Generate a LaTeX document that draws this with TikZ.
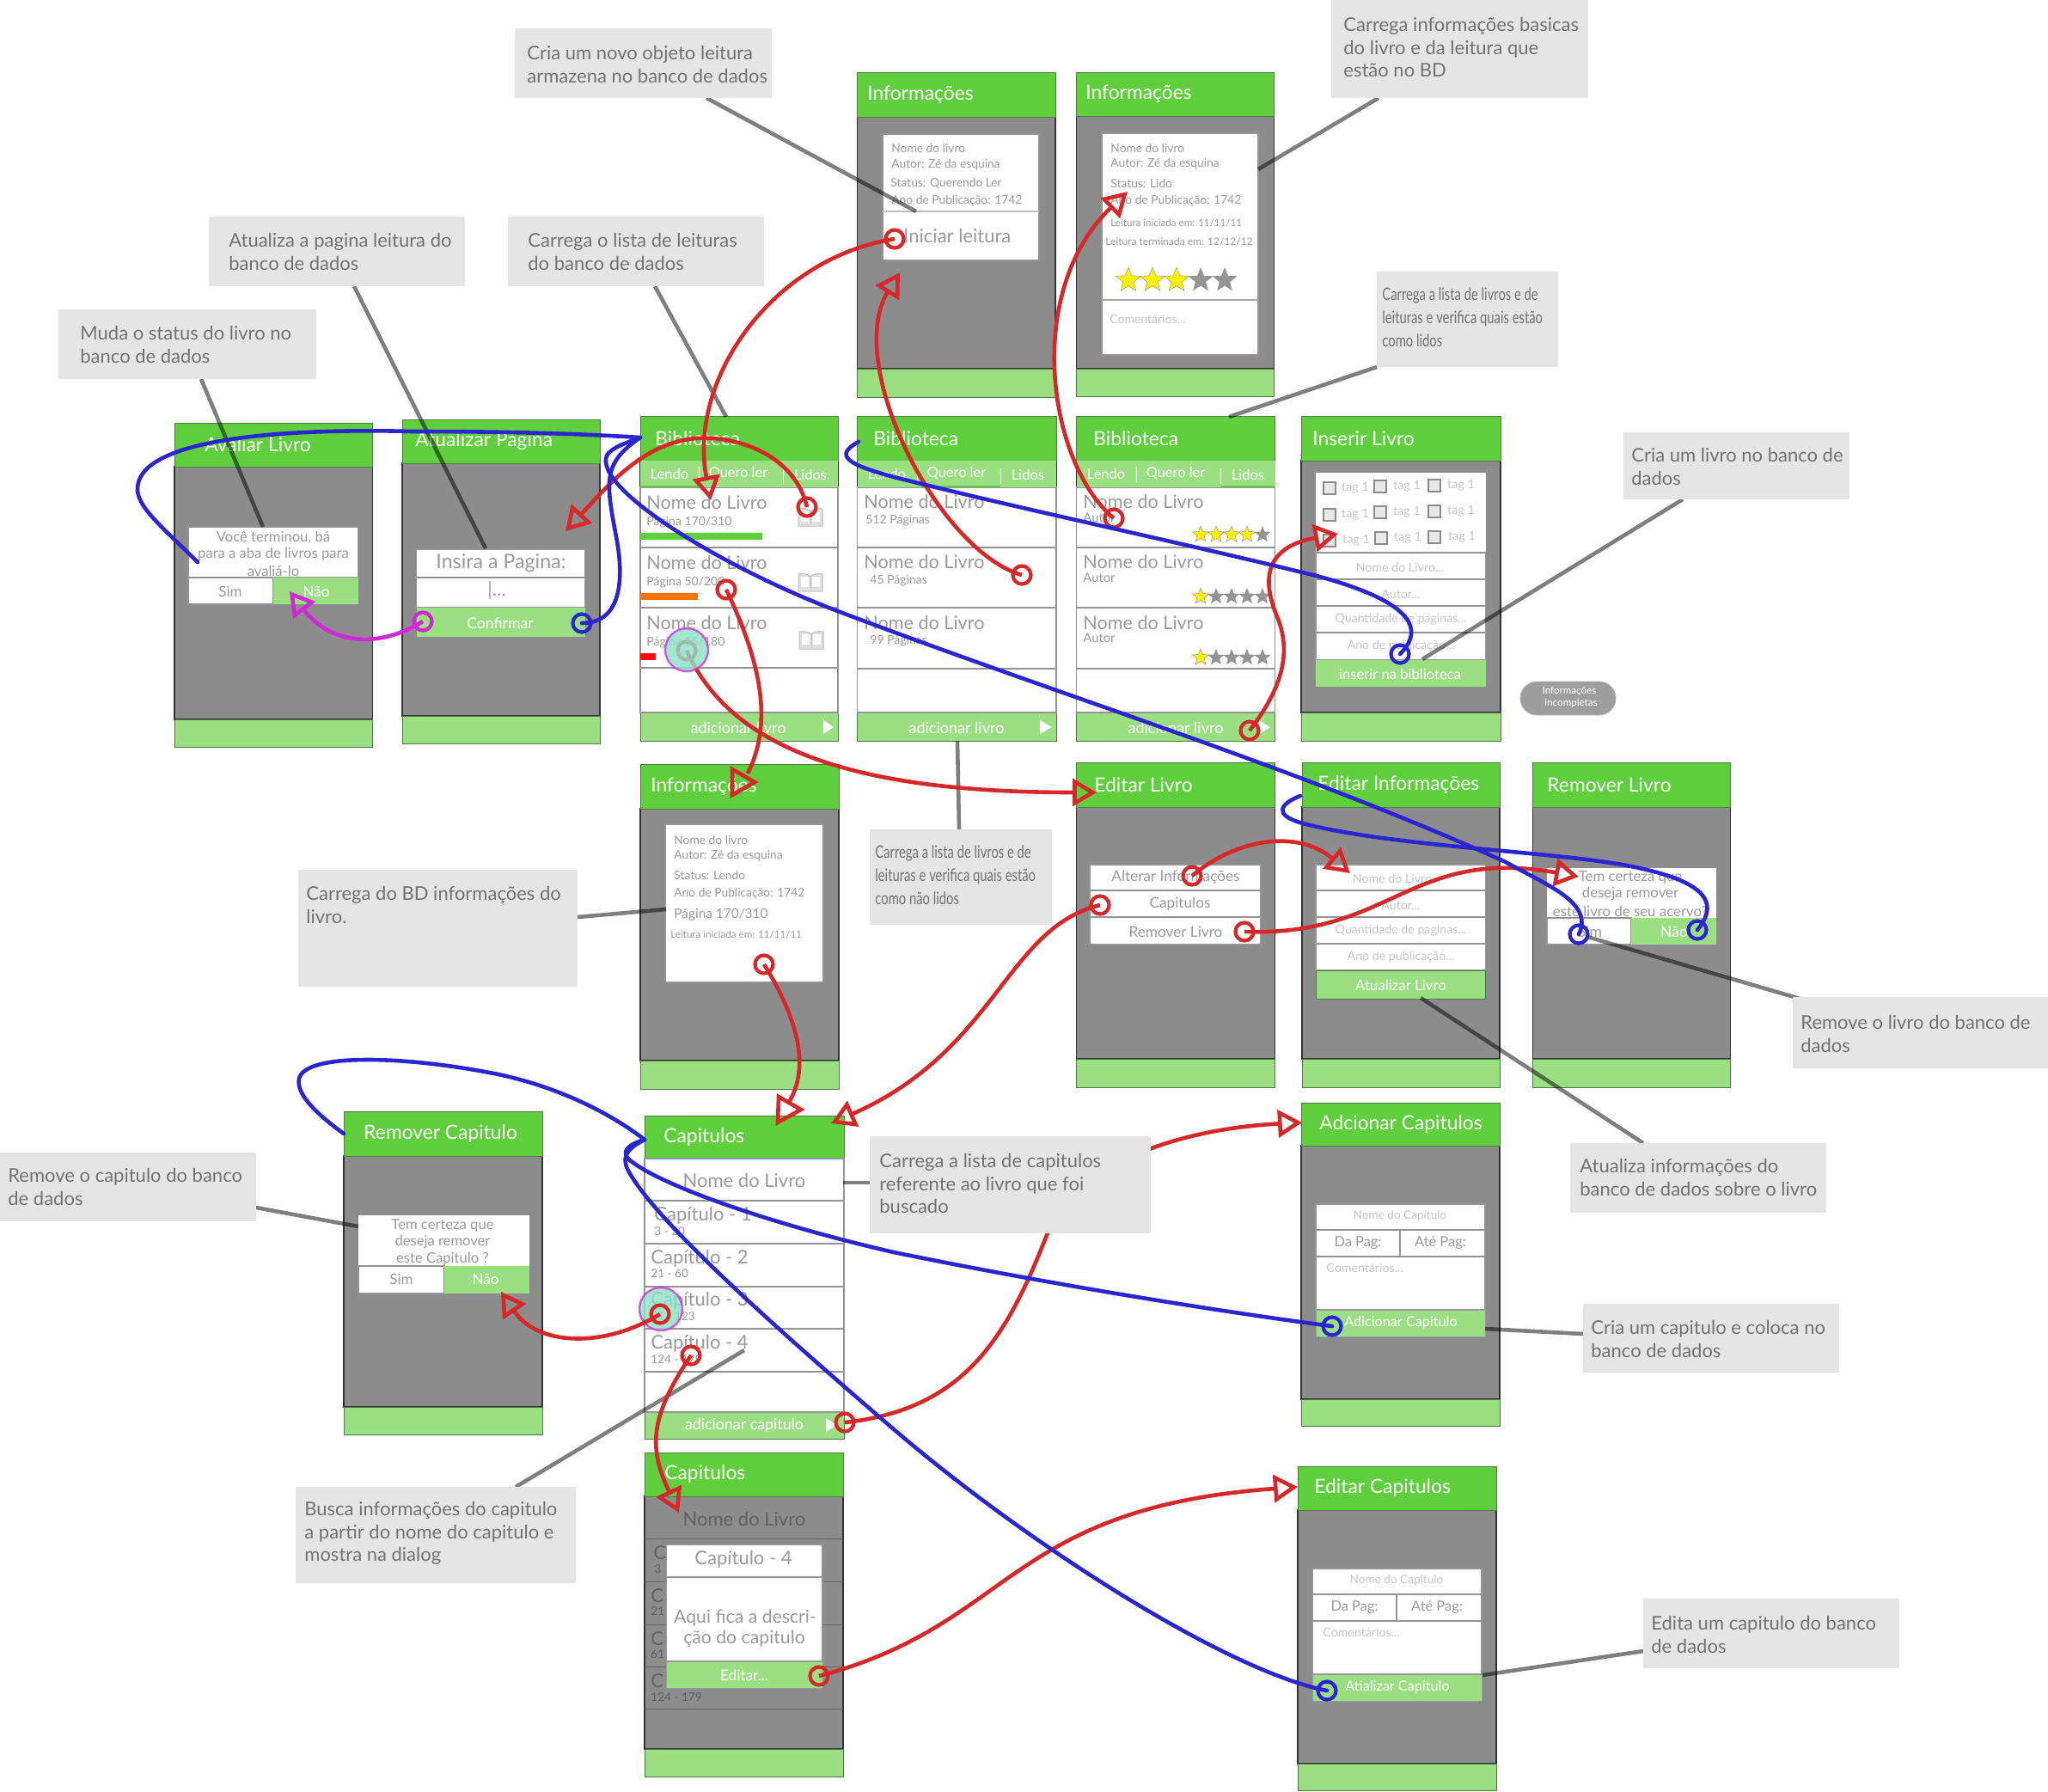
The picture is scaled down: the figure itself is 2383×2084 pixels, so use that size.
\documentclass[tikz,border=0pt]{standalone}
\usepackage{fontspec}
\setmainfont{Lato}
\usetikzlibrary{arrows.meta,shapes.geometric}
\definecolor{hdrg}{HTML}{5FCF3D}
\definecolor{lightg}{HTML}{9ADF82}
\definecolor{bodyg}{HTML}{8C8C8C}
\definecolor{callg}{HTML}{E5E5E5}
\definecolor{txtg}{HTML}{9A9A9A}
\definecolor{palet}{HTML}{C6C6C6}
\definecolor{callt}{HTML}{727272}
\definecolor{rede}{HTML}{D62828}
\definecolor{blu}{HTML}{2A25D0}
\definecolor{magn}{HTML}{D028D6}
\definecolor{teal1}{HTML}{8CE1C8}
\definecolor{edgeg}{HTML}{4E7A44}
\newcounter{tn}
\tikzset{
  fs/.style={font=\fontsize{#1}{#1}\selectfont},
  gt/.style={text=txtg,inner sep=0pt},
  pt/.style={text=palet,inner sep=0pt},
  wt/.style={text=white,inner sep=0pt},
  dk/.style={text=black!62,inner sep=0pt},
  titletext/.style={text=white,inner sep=0pt,anchor=west,font=\fontsize{11.4}{12}\selectfont},
  hdrbox/.style={fill=hdrg,draw=edgeg,line width=.5pt},
  bodybox/.style={fill=bodyg,draw=black!80,line width=.6pt},
  footbox/.style={fill=lightg,draw=edgeg,line width=.5pt},
  rowbox/.style={fill=white,draw=black!42,line width=.6pt},
  tabbox/.style={fill=lightg,draw=none},
  calloutbox/.style={fill=callg,draw=none,inner sep=0pt,anchor=north west},
  callouttext/.style={text=callt,inner sep=0pt,anchor=west,align=left,font=\fontsize{11}{13.4}\selectfont},
  leader/.style={draw=black,opacity=.5,line width=2.3pt},
  ringr/.style={circle,draw=rede,line width=2.1pt,minimum size=10.5pt,inner sep=0pt},
  ringb/.style={circle,draw=blu,line width=2.1pt,minimum size=10.5pt,inner sep=0pt},
  ringm/.style={circle,draw=magn,line width=2.1pt,minimum size=10.5pt,inner sep=0pt},
  redarrow/.style={draw=rede,line width=2.3pt,-{Triangle[open,length=14pt,width=16pt]}},
  redwire/.style={draw=rede,line width=2.3pt},
  redhead/.style={draw=rede,line width=2.3pt,line join=miter},
  bluewire/.style={draw=blu,line width=2.3pt,line cap=round},
  magarrow/.style={draw=magn,line width=2.3pt,-{Triangle[open,length=14pt,width=16pt]}},
  tealspot/.style={circle,fill=teal1,fill opacity=.8,draw=magn,draw opacity=.75,line width=1.2pt,minimum size=25pt,inner sep=0pt},
  starY/.style={star,star points=5,star point ratio=2.3,fill=yellow,draw=black!40,line width=.25pt,inner sep=0pt},
  starG/.style={star,star points=5,star point ratio=2.3,fill=black!42,draw=none,inner sep=0pt},
  playmark/.style={fill=white,draw=none},
  bookmark/.style={fill=black!12,draw=black!25,line width=.5pt},
  checkb/.style={fill=black!9,draw=black!45,line width=.9pt},
}
\newcommand\tx[4][gt]{\stepcounter{tn}\node[#1] (t\arabic{tn}) at (#2,#3) {#4};}
\newcommand\txl[4][gt]{\stepcounter{tn}\node[#1,anchor=west] (t\arabic{tn}) at (#2,#3) {#4};}
\newcommand\scrn[9]{%
  \draw[bodybox] (#2,#5) rectangle (#3,#6);
  \draw[footbox] (#2,#6) rectangle (#3,#7);
  \draw[hdrbox] (#2,#4) rectangle (#3,#5);
  \node[titletext] (#1) at (#8,{(#4+#5)/2}) {#9};}
\newcommand\rowsbox[3]{\foreach \a/\b in {#3} {\draw[rowbox] (#1,\a) rectangle (#2,\b);}}
\newcommand\callout[8]{%
  \node[calloutbox,minimum width={(#4-#2)*.5pt},minimum height={(#5-#3)*.5pt}] (#1) at (#2,#3) {};
  \node[callouttext] (#1t) at (#6,#7) {#8};}
\newcommand\playtri[3]{\fill[playmark] (#1,{#3-8}) -- (#2,#3) -- (#1,{#3+8}) -- cycle;}
\newcommand\bookicon[2]{\fill[bookmark] (#1-14,#2-10) .. controls (#1-8,#2-11) and (#1-3,#2-10) .. (#1,#2-7) .. controls (#1+3,#2-10) and (#1+8,#2-11) .. (#1+14,#2-10) -- (#1+14,#2+10) -- (#1,#2+10) -- (#1-14,#2+10) -- cycle;
  \draw[draw=black!25,line width=.5pt] (#1,#2-7) -- (#1,#2+8);
  \fill[white] (#1-11,#2-7) rectangle (#1-2,#2+5);
  \fill[white] (#1+2,#2-7) rectangle (#1+11,#2+5);}
\newcommand\starrow[6]{\foreach \i in {1,...,5} {\ifnum\i>#6\relax\node[starG,minimum size=#5pt] (#1g\i) at ({#2+(\i-1)*#4},#3) {};\else\node[starY,minimum size=#5pt] (#1y\i) at ({#2+(\i-1)*#4},#3) {};\fi}}
\newcommand\capform[3]{\begin{scope}[shift={(#1,#2)}]
  \rowsbox{1531}{1728}{1401/1431,1431/1462,1462/1524}
  \draw[rowbox] (1629,1431) -- (1629,1462);
  \draw[footbox,draw=black!40] (1531,1524) rectangle (1728,1555);
  \tx[pt,fs=6.8]{1629}{1415}{Nome do Capítulo}
  \tx[gt,fs=8.2]{1580}{1446}{Da Pag:}
  \tx[gt,fs=8.2]{1676}{1446}{Até Pag:}
  \txl[pt,fs=7.1]{1543}{1475}{Comentários...}
  \tx[wt,fs=8.1]{1630}{1539}{#3}
\end{scope}}
\newcommand\tabsbar[9]{%
  \fill[tabbox] (#1,#3) rectangle (#2,567);
  \draw[white,line width=.5pt] (#4,543) -- (#4,561);
  \draw[white,line width=.5pt] (#5,545) -- (#5,563);
  \tx[wt,fs=8.2]{#6}{552}{Lendo}
  \tx[wt,fs=8.2]{#7}{551}{Quero ler}
  \tx[wt,fs=8.2]{#8}{553}{Lidos}
  \draw[hdrg,line width=1.2pt] #9;}
\begin{document}
\begin{tikzpicture}[x=.5pt,y=-.5pt]
\useasboundingbox (0,0) rectangle (2383,2084);
\fill[white] (0,0) rectangle (2383,2084);

% ---------- Informacoes (quero ler)
\scrn{sInfoA}{997.5}{1228}{84}{136}{429}{462}{1009}{Informações}
\draw[rowbox] (1027,156) rectangle (1209,303);
\draw[black!25,line width=.8pt] (1027,246) -- (1209,246);
\txl[gt,fs=6.9]{1037}{172}{Nome do livro}
\txl[gt,fs=6.9]{1037}{192}{Autor: Zé da esquina}
\txl[gt,fs=6.9]{1036}{213}{Status: Querendo Ler}
\txl[gt,fs=6.9]{1037}{234}{Ano de Publicação: 1742}
\txl[gt,fs=11]{1051}{274}{Iniciar leitura}

% ---------- Informacoes (lido)
\scrn{sInfoB}{1252.5}{1482.5}{84}{135}{429}{461}{1263}{Informações}
\draw[rowbox] (1282,155) rectangle (1464,413);
\draw[black!35,line width=.8pt] (1282,349) -- (1464,349);
\txl[gt,fs=6.9]{1292}{172}{Nome do livro}
\txl[gt,fs=6.9]{1292}{191}{Autor: Zé da esquina}
\txl[gt,fs=6.9]{1292}{213}{Status: Lido}
\txl[gt,fs=6.9]{1292}{234}{Ano de Publicação: 1742}
\txl[gt,fs=5.8]{1292}{259}{Leitura iniciada em: 11/11/11}
\txl[gt,fs=6]{1286}{281}{Leitura terminada em: 12/12/12}
\starrow{stI}{1313}{326}{28}{15}{3}
\txl[pt,fs=7]{1291}{371}{Comentários...}

% ---------- Avaliar Livro
\scrn{sAval}{203}{433.5}{492}{543}{837}{869}{238}{Avaliar Livro}
\draw[rowbox] (219,613) rectangle (417,672);
\draw[rowbox] (219,672) rectangle (318,703);
\fill[lightg] (318,672) rectangle (417,703);
\tx[gt,fs=8.3]{318}{625}{Você terminou, bá}
\tx[gt,fs=8.3]{318}{645}{para a aba de livros para}
\tx[gt,fs=8.3]{318}{664}{avaliá-lo}
\tx[gt,fs=8.5]{268}{688}{Sim}
\tx[wt,fs=8.5]{368}{688}{Não}

% ---------- Atualizar Pagina
\scrn{sAtual}{468}{698}{488}{539}{833}{865}{483}{Atualizar Página}
\draw[rowbox] (484.5,639) rectangle (681,672);
\draw[rowbox] (484.5,672) rectangle (681,707);
\fill[lightg] (484.5,707) rectangle (681,741);
\tx[gt,fs=11.6]{583}{655}{Insira a Pagina:}
\tx[gt,fs=11]{578}{687}{|...}
\tx[wt,fs=8.8]{582}{725}{Confirmar}

% ---------- Biblioteca 1
\scrn{sBibA}{745}{975}{484}{536}{829}{862}{762}{Biblioteca}
\rowsbox{745}{975}{567/637,637/707,707/777,777/829}
\tabsbar{745}{975}{536}{813}{911}{779}{859}{943}{(745,566) -- (813,566)}
\txl[gt,fs=10.8]{752}{585}{Nome do Livro}
\txl[gt,fs=7]{752}{608}{Página 170/310}
\fill[hdrg] (745,620) rectangle (887,628);
\bookicon{943}{602}
\txl[gt,fs=10.8]{752}{655}{Nome do Livro}
\txl[gt,fs=7]{752}{678}{Página  50/200}
\fill[orange!90!red] (745,690) rectangle (812,698);
\bookicon{943}{678}
\txl[gt,fs=10.8]{752}{725}{Nome do Livro}
\txl[gt,fs=7]{752}{748}{Página  15/180}
\fill[red!95!white] (745,760) rectangle (763,768);
\bookicon{944}{745}
\tx[wt,fs=9]{859}{847}{adicionar livro}
\playtri{958}{970}{846}

% ---------- Biblioteca 2
\scrn{sBibB}{997.5}{1229}{484}{536}{829}{862}{1016}{Biblioteca}
\rowsbox{997.5}{1229}{567/637,637/707,707/778,778/829}
\tabsbar{997.5}{1229}{536}{1067}{1164}{1032}{1113}{1196}{(1072,566) -- (1164,566)}
\txl[gt,fs=10.8]{1005}{584}{Nome do Livro}
\txl[gt,fs=7]{1007}{606}{512 Páginas}
\txl[gt,fs=10.8]{1005}{654}{Nome do Livro}
\txl[gt,fs=7]{1012}{676}{45 Páginas}
\txl[gt,fs=10.8]{1005}{725}{Nome do Livro}
\txl[gt,fs=7]{1012}{746}{99 Páginas}
\tx[wt,fs=9]{1113}{847}{adicionar livro}
\playtri{1210}{1224}{846}

% ---------- Biblioteca 3
\scrn{sBibC}{1252.5}{1483.5}{484}{536}{829}{862}{1272}{Biblioteca}
\rowsbox{1252.5}{1483.5}{567/637,637/707,707/778,778/829}
\tabsbar{1252.5}{1483.5}{536}{1322}{1420}{1287}{1368}{1452}{(1420,566) -- (1483,566)}
\txl[gt,fs=10.8]{1260}{584}{Nome do Livro}
\txl[gt,fs=7.4]{1260}{602}{Autor}
\starrow{stA}{1397}{622}{18}{10}{4}
\txl[gt,fs=10.8]{1260}{654}{Nome do Livro}
\txl[gt,fs=7.4]{1260}{672}{Autor}
\starrow{stB}{1397}{694}{18}{10}{1}
\txl[gt,fs=10.8]{1260}{725}{Nome do Livro}
\txl[gt,fs=7.4]{1260}{742}{Autor}
\starrow{stC}{1397}{765}{18}{10}{1}
\tx[wt,fs=9]{1368}{847}{adicionar livro}
\playtri{1465}{1478}{846}

% ---------- Inserir Livro
\scrn{sIns}{1514}{1746}{484}{536}{829}{862}{1527}{Inserir Livro}
\fill[white] (1531,550) rectangle (1729,643);
\rowsbox{1531}{1729}{643/674,674/705,705/736,736/768}
\fill[lightg] (1531,768) rectangle (1729,799);
\foreach \bx/\by/\lx in {1547/568/1577,1606/566/1637,1669/565/1700,1547/599/1577,1606/596/1637,1669/595/1700,1547/629/1578,1607/626/1638,1669/625/1701}{
  \draw[checkb] (\bx-7,\by-7) rectangle (\bx+7,\by+7);
  \node[pt,fs=7.2] (tag\bx\by) at (\lx,\by) {tag 1};}
\tx[pt,fs=7.1]{1629}{660}{Nome do Livro...}
\tx[pt,fs=7.1]{1630}{691}{Autor...}
\tx[pt,fs=7.1]{1630}{721}{Quantidade de paginas...}
\tx[pt,fs=7.1]{1630}{752}{Ano de publicação...}
\tx[wt,fs=8.3]{1629}{784}{inserir na biblioteca}

% ---------- Informacoes (lendo)
\scrn{sInfoC}{745}{976}{889}{941}{1234}{1267}{757}{Informações}
\draw[rowbox] (774,959) rectangle (958,1143);
\txl[gt,fs=6.9]{784}{977}{Nome do livro}
\txl[gt,fs=6.9]{784}{996}{Autor: Zé da esquina}
\txl[gt,fs=6.9]{784}{1018}{Status: Lendo}
\txl[gt,fs=6.9]{784}{1040}{Ano de Publicação: 1742}
\txl[gt,fs=7.7]{784}{1064}{Página 170/310}
\txl[gt,fs=5.8]{780}{1087}{Leitura iniciada em: 11/11/11}

% ---------- Editar Livro
\scrn{sEdit}{1252.5}{1483.5}{887}{939}{1232}{1265}{1273}{Editar Livro}
\rowsbox{1268}{1467}{1006/1036,1036/1067,1067/1099}
\tx[gt,fs=8.6]{1368}{1021}{Alterar Informações}
\tx[gt,fs=8.6]{1373}{1052}{Capitulos}
\tx[gt,fs=8.6]{1368}{1084}{Remover Livro}

% ---------- Editar Informacoes
\scrn{sEdI}{1515}{1745}{887}{939}{1232}{1265}{1533}{Editar Informações}
\rowsbox{1531}{1728.5}{1006/1036,1036/1067,1067/1098,1098/1129}
\fill[lightg] (1531,1129) rectangle (1728.5,1162);
\draw[edgeg,line width=.4pt] (1531,1129) rectangle (1728.5,1162);
\tx[pt,fs=7.1]{1625}{1022}{Nome do Livro...}
\tx[pt,fs=7.1]{1630}{1053}{Autor...}
\tx[pt,fs=7.1]{1630}{1083}{Quantidade de paginas...}
\tx[pt,fs=7.1]{1630}{1114}{Ano de publicação...}
\tx[wt,fs=8.4]{1630}{1146}{Atualizar Livro}

% ---------- Remover Livro
\scrn{sRem}{1783.5}{2013.5}{887}{939}{1232}{1265}{1800}{Remover Livro}
\fill[white] (1800,1010) rectangle (1997,1068);
\draw[rowbox] (1800,1068) rectangle (1898,1099);
\fill[lightg] (1898,1068) rectangle (1997,1099);
\tx[gt,fs=8.4]{1897}{1021}{Tem certeza que}
\tx[gt,fs=8.4]{1897}{1040}{deseja remover}
\tx[gt,fs=8.4]{1897}{1060}{este livro de seu acervo?}
\tx[gt,fs=8.8]{1850}{1084}{Sim}
\tx[wt,fs=8.8]{1948}{1084}{Não}

% ---------- Remover Capitulo
\scrn{sRemC}{400}{631}{1293}{1345}{1637}{1669}{423}{Remover Capitulo}
\fill[white] (417,1414) rectangle (616,1473);
\draw[rowbox] (417,1473) rectangle (517,1505);
\fill[lightg] (517,1473) rectangle (616,1505);
\tx[gt,fs=8.3]{515}{1426}{Tem certeza que}
\tx[gt,fs=8.3]{515}{1445}{deseja remover}
\tx[gt,fs=8.3]{515}{1465}{este Capitulo ?}
\tx[gt,fs=8.5]{467}{1488}{Sim}
\tx[wt,fs=8.5]{565}{1488}{Não}

% ---------- Capitulos 1
\scrn{sCap}{750}{982}{1298}{1348}{1643}{1674}{772}{Capitulos}
\rowsbox{750}{982}{1348/1397,1397/1447,1447/1497,1497/1546,1546/1596,1596/1643}
\tx[gt,fs=11]{866}{1373}{Nome do Livro}
\txl[gt,fs=11]{761}{1414}{Capítulo - 1}
\txl[gt,fs=6.8]{761}{1433}{3 - 20}
\txl[gt,fs=11]{757}{1464}{Capítulo - 2}
\txl[gt,fs=6.8]{757}{1482}{21 - 60}
\txl[gt,fs=11]{757}{1513}{Capítulo - 3}
\txl[gt,fs=6.8]{757}{1532}{61 - 123}
\txl[gt,fs=11]{757}{1563}{Capítulo - 4}
\txl[gt,fs=6.8]{757}{1582}{124 - 179}
\tx[wt,fs=8.9]{866}{1658}{adicionar capitulo}
\playtri{961}{974}{1658}

% ---------- Capitulos 2 (com dialogo)
\scrn{sCapD}{750}{981}{1690}{1741}{2035}{2067}{773}{Capitulos}
\foreach \yy in {1790,1840,1890,1939,1988}{\draw[black!60,line width=.5pt] (750,\yy) -- (981,\yy);}
\tx[dk,fs=11]{866}{1767}{Nome do Livro}
\txl[dk,fs=11]{760}{1807}{C}
\txl[dk,fs=6.8]{761}{1826}{3}
\txl[dk,fs=11]{757}{1857}{C}
\txl[dk,fs=6.8]{757}{1875}{21}
\txl[dk,fs=11]{757}{1907}{C}
\txl[dk,fs=6.8]{757}{1925}{61}
\txl[dk,fs=11]{757}{1956}{C}
\txl[dk,fs=6.8]{757}{1975}{124 - 179}
\draw[rowbox] (775,1797) rectangle (957,1835);
\draw[rowbox] (775,1835) rectangle (957,1933);
\draw[footbox,draw=black!40] (775,1933) rectangle (957,1964);
\tx[gt,fs=11]{865}{1814}{Capítulo - 4}
\tx[gt,fs=10.6]{867}{1882}{Aqui fica a descri-}
\tx[gt,fs=10.6]{866}{1907}{ção do capitulo}
\tx[wt,fs=8.6]{866}{1949}{Editar...}

% ---------- Adicionar / Editar capitulos
\scrn{sAddC}{1514}{1745}{1283}{1333}{1628}{1659}{1535}{Adcionar Capitulos}
\capform{0}{0}{Adicionar Capitulo}
\scrn{sEdC}{1510}{1741}{1706}{1757}{2052}{2083}{1529}{Editar Capitulos}
\capform{-4}{424}{Atializar Capitulo}

% ---------- Pill
\draw[fill=black!38,draw=black!30,line width=.4pt,rounded corners=9.7pt] (1769,793) rectangle (1880,832);
\tx[wt,fs=5.8]{1826}{804}{Informações}
\tx[wt,fs=5.8]{1828}{818}{incompletas}

% ---------- Leader lines
\coordinate (lA1) at (234,441);   \coordinate (lA2) at (306,613);
\coordinate (lB1) at (412,333);   \coordinate (lB2) at (565,638);
\coordinate (lC1) at (762,333);   \coordinate (lC2) at (845,485);
\coordinate (lD1) at (822,114);   \coordinate (lD2) at (1066,246);
\coordinate (lE1) at (1604,114);  \coordinate (lE2) at (1464,197);
\coordinate (lF1) at (1602,427);  \coordinate (lF2) at (1430,485);
\coordinate (lG1) at (1958,581);  \coordinate (lG2) at (1655,767);
\coordinate (lH1) at (672,1067);  \coordinate (lH2) at (775,1058);
\coordinate (lI1) at (1114,862);  \coordinate (lI2) at (1116,965);
\coordinate (lJ1) at (2098,1163); \coordinate (lJ2) at (1847,1090);
\coordinate (lK1) at (1912,1330); \coordinate (lK2) at (1653,1161);
\coordinate (lL1) at (298,1405);  \coordinate (lL2) at (417,1427);
\coordinate (lM1) at (1012,1376); \coordinate (lM2) at (981,1376);
\coordinate (lN1) at (1842,1552); \coordinate (lN2) at (1728,1546);
\coordinate (lO1) at (600,1730);  \coordinate (lO2) at (866,1571);
\coordinate (lP1) at (1912,1921); \coordinate (lP2) at (1725,1949);
\foreach \p in {A,B,C,D,E,F,G,H,I,J,K,L,M,N,O,P}{\draw[leader] (l\p1) -- (l\p2);}

% ---------- Spots and rings
\node[tealspot] (spotC) at (769,1523) {};
\node[ringr] (c1) at (1041,278) {};
\node[ringr] (c2) at (1189,669) {};
\node[ringr] (c3) at (939,590) {};
\node[ringr] (c4) at (845,686) {};
\node[ringr] (c5) at (799,757) {};
\node[ringr] (c6) at (768,1529) {};
\node[ringr] (c7) at (804,1577) {};
\node[ringr] (c8) at (983,1655) {};
\node[ringr] (c9) at (1280,1053) {};
\node[ringr] (c10) at (1387,1019) {};
\node[ringr] (c11) at (1448,1084) {};
\node[ringr] (c12) at (1454,850) {};
\node[ringr] (c13) at (1296,603) {};
\node[ringr] (c14) at (953,1950) {};
\node[ringr] (c15) at (889,1122) {};
\node[ringb] (b1) at (677,725) {};
\node[ringb] (b3) at (1629,761) {};
\node[ringb] (b4) at (1975,1082) {};
\node[ringb] (b5) at (1837,1087) {};
\node[ringb] (b6) at (1550,1543) {};
\node[ringb] (b7) at (1544,1967) {};
\node[ringm] (m1) at (492,723) {};

% ---------- Free ends
\coordinate (h1) at (827,582);
\coordinate (h2) at (1047,317);
\coordinate (h3) at (658,618);
\coordinate (h6) at (583,1503);
\coordinate (h7) at (790,1760);
\coordinate (h8) at (1515,1306);
\coordinate (h9) at (967,1307);
\coordinate (h10) at (1571,1016);
\coordinate (h11) at (1837,1020);
\coordinate (h12) at (1557,621);
\coordinate (h13) at (1312,223);
\coordinate (h14) at (1510,1730);
\coordinate (h5) at (1276,922);
\coordinate (hm) at (337,688);
\coordinate (eBibA) at (745,509);
\coordinate (eBibB) at (999,514);
\coordinate (eEdI) at (1513,926);
\coordinate (eCap) at (750,1326);
\coordinate (eAval) at (230,654);
\coordinate (eRemC) at (400,1319);
\coordinate (e4) at (870,900);
\coordinate (e15) at (917,1284);

% ---------- Red connectors
\draw[redarrow] (c1.center) .. controls (900,300) and (800,440) .. (h1);
\draw[redarrow] (c2.center) .. controls (1090,640) and (982,422) .. (h2);
\draw[redarrow] (c3.center) .. controls (925,530) and (860,507) .. (810,510) .. controls (750,515) and (710,562) .. (h3);
\draw[redwire] (c4.center) .. controls (885,770) and (900,840) .. (e4);
\draw[redhead] (852,895) -- (878,910) -- (852,925) -- cycle;
\draw[redarrow] (c5.center) .. controls (850,870) and (990,922) .. (h5);
\draw[redarrow] (c6.center) .. controls (700,1570) and (625,1565) .. (h6);
\draw[redarrow] (c7.center) .. controls (755,1650) and (755,1685) .. (h7);
\draw[redarrow] (c8.center) .. controls (1120,1640) and (1170,1560) .. (1218,1437) .. controls (1260,1340) and (1400,1312) .. (h8);
\draw[redarrow] (c9.center) .. controls (1170,1080) and (1160,1222) .. (h9);
\draw[redarrow] (c10.center) .. controls (1440,975) and (1510,965) .. (h10);
\draw[redarrow] (c11.center) .. controls (1620,1090) and (1640,985) .. (h11);
\draw[redarrow] (c12.center) .. controls (1500,790) and (1500,750) .. (1485,715) .. controls (1465,665) and (1480,635) .. (h12);
\draw[redarrow] (c13.center) .. controls (1220,540) and (1190,340) .. (h13);
\draw[redarrow] (c14.center) .. controls (1180,1890) and (1170,1755) .. (h14);
\draw[redwire] (c15.center) .. controls (925,1180) and (945,1240) .. (e15);
\draw[redhead] (906,1276) -- (932,1291) -- (905,1306) -- cycle;

% ---------- Magenta connector
\draw[magarrow] (m1.center) .. controls (440,755) and (385,750) .. (hm);

% ---------- Blue connectors
\draw[bluewire] (b1.center) .. controls (725,725) and (725,670) .. (718,630) .. controls (705,560) and (700,540) .. (eBibA);
\draw[bluewire] (eAval) .. controls (185,610) and (161,590) .. (160,570) .. controls (158,510) and (330,498) .. (480,502) .. controls (600,502) and (680,505) .. (eBibA);
\draw[bluewire] (b3.center) .. controls (1665,725) and (1625,695) .. (1532,670) .. controls (1360,628) and (1200,595) .. (1040,555) .. controls (985,540) and (970,530) .. (eBibB);
\draw[bluewire] (b4.center) .. controls (2010,1040) and (1960,1020) .. (1893,1007) .. controls (1800,990) and (1620,985) .. (1516,958) .. controls (1480,948) and (1490,935) .. (eEdI);
\draw[bluewire] (b5.center) .. controls (1855,1050) and (1800,1030) .. (1750,1002) .. controls (1500,890) and (1250,815) .. (980,713) .. controls (850,665) and (690,570) .. (706,530) .. controls (712,520) and (730,515) .. (eBibA);
\draw[bluewire] (b6.center) .. controls (1450,1530) and (1250,1500) .. (1040,1457) .. controls (900,1425) and (770,1380) .. (733,1350) .. controls (722,1340) and (730,1332) .. (eCap);
\draw[bluewire] (b7.center) .. controls (1430,1945) and (1200,1800) .. (1040,1663) .. controls (920,1560) and (760,1420) .. (730,1360) .. controls (722,1342) and (735,1334) .. (eCap);
\draw[bluewire] (eRemC) .. controls (360,1290) and (345,1270) .. (348,1255) .. controls (355,1225) and (470,1228) .. (580,1250) .. controls (650,1265) and (710,1295) .. (eCap);

\node[tealspot] (spotB) at (799,756) {};

% ---------- Callouts
\callout{n1}{599}{33}{898}{114}{613}{75}{Cria um novo objeto leitura\\armazena no banco de dados}
\callout{n2}{1549}{0}{1848}{114}{1563}{55}{Carrega informações basicas\\do livro e da leitura que\\estão no BD}
\callout{n3}{243}{252}{541}{333}{266}{293}{Atualiza a pagina leitura do\\banco de dados}
\callout{n4}{591}{252}{889}{333}{614}{293}{Carrega o lista de leituras\\do banco de dados}
\callout{n5}{68}{360}{368}{441}{93}{401}{Muda o status do livro no\\banco de dados}
\node[calloutbox,minimum width=105.5pt,minimum height=55.5pt] (n6) at (1602,316) {};
\node[callouttext,font=\fontsize{10}{13.4}\selectfont] (n6t) at (1608,371) {\scalebox{.74}[1]{\begin{tabular}{@{}l@{}}Carrega a lista de livros e de\\leituras e verifica quais estão\\como lidos\end{tabular}}};
\callout{n7}{1889}{503}{2152}{581}{1898}{543}{Cria um livro no banco de\\dados}
\callout{n8}{347}{1012}{672}{1148}{356}{1053}{Carrega do BD informações do\\livro.}
\node[calloutbox,minimum width=106pt,minimum height=55.5pt] (n9) at (1012,965) {};
\node[callouttext,font=\fontsize{10}{13.4}\selectfont] (n9t) at (1018,1020) {\scalebox{.74}[1]{\begin{tabular}{@{}l@{}}Carrega a lista de livros e de\\leituras e verifica quais estão\\como não lidos\end{tabular}}};
\callout{n10}{2086}{1160}{2383}{1243}{2095}{1203}{Remove o livro do banco de\\dados}
\callout{n11}{1827}{1330}{2125}{1411}{1838}{1370}{Atualiza informações do\\banco de dados sobre o livro}
\callout{n12}{0}{1341}{298}{1421}{9}{1381}{Remove o capitulo do banco\\de dados}
\callout{n13}{1012}{1322}{1339}{1435}{1023}{1377}{Carrega a lista de capitulos\\referente ao livro que foi\\buscado}
\callout{n14}{1842}{1517}{2140}{1597}{1851}{1558}{Cria um capitulo e coloca no\\banco de dados}
\callout{n15}{344}{1730}{670}{1842}{354}{1784}{Busca informações do capitulo\\a partir do nome do capitulo e\\mostra na dialog}
\callout{n16}{1912}{1860}{2210}{1941}{1921}{1902}{Edita um capitulo do banco\\de dados}
\end{tikzpicture}
\end{document}
